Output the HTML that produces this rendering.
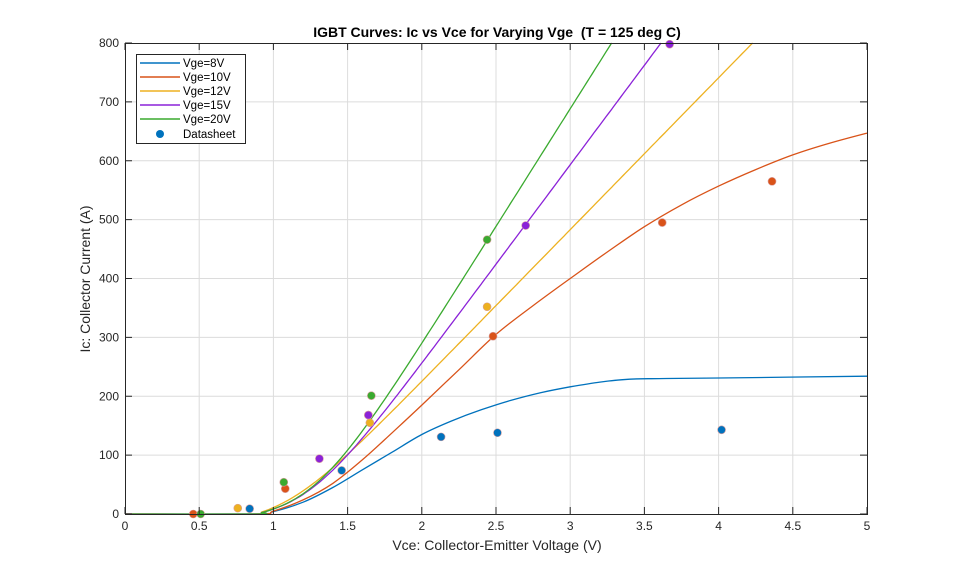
<!DOCTYPE html>
<html><head><meta charset="utf-8"><style>
body{margin:0;background:#fff;width:959px;height:577px;overflow:hidden}
text{font-family:"Liberation Sans",Arial,sans-serif;white-space:pre}
</style></head><body>
<svg id="s" width="959" height="577" xmlns="http://www.w3.org/2000/svg">
<rect width="959" height="577" fill="#fff"/>
<g id="grid" stroke="#dcdcdc" stroke-width="1"></g>
<g id="lines" fill="none" stroke-width="1.3"></g>
<g id="pts"></g>
<rect x="125.5" y="43.5" width="742" height="471" fill="none" stroke="#262626" stroke-width="1"/>
<g id="ticks" stroke="#262626"></g>
<g id="lab" font-size="12" fill="#262626"></g>
<text x="497" y="37" font-size="14" font-weight="bold" text-anchor="middle" fill="#000" xml:space="preserve">IGBT Curves: Ic vs Vce for Varying Vge  (T = 125 deg C)</text>
<text x="497" y="550" font-size="14" text-anchor="middle" fill="#262626">Vce: Collector-Emitter Voltage (V)</text>
<text transform="translate(90,279) rotate(-90)" font-size="14" text-anchor="middle" fill="#262626">Ic: Collector Current (A)</text>
<g>
<rect x="136.5" y="54.5" width="109" height="89" fill="#fff" stroke="#262626"/>
<g font-size="11.5" fill="#000">
<line x1="140" y1="63" x2="180" y2="63" stroke="#0072BD" stroke-width="1.5"/><text x="183" y="67">Vge=8V</text>
<line x1="140" y1="77" x2="180" y2="77" stroke="#D95319" stroke-width="1.5"/><text x="183" y="81">Vge=10V</text>
<line x1="140" y1="91" x2="180" y2="91" stroke="#EDB120" stroke-width="1.5"/><text x="183" y="95">Vge=12V</text>
<line x1="140" y1="105" x2="180" y2="105" stroke="#8B22D8" stroke-width="1.5"/><text x="183" y="109">Vge=15V</text>
<line x1="140" y1="119" x2="180" y2="119" stroke="#3AAA2F" stroke-width="1.5"/><text x="183" y="123">Vge=20V</text>
<circle cx="160" cy="134" r="4" fill="#0072BD"/><text x="183" y="138">Datasheet</text>
</g></g>
</svg>
<script>
const NS="http://www.w3.org/2000/svg";
const X=v=>125+148.4*v, Y=i=>514-0.58875*i;
function el(p,t,a){const e=document.createElementNS(NS,t);for(const k in a)e.setAttribute(k,a[k]);document.getElementById(p).appendChild(e);return e;}
for(let k=1;k<10;k++){el('grid','line',{x1:X(k*0.5),x2:X(k*0.5),y1:43,y2:514});}
for(let k=1;k<8;k++){el('grid','line',{x1:125,x2:867,y1:Y(k*100),y2:Y(k*100)});}
for(let k=0;k<=10;k++){const x=X(k*0.5);el('ticks','line',{x1:x,x2:x,y1:514,y2:507});el('ticks','line',{x1:x,x2:x,y1:43,y2:50});
 const t=el('lab','text',{x:x,y:530,'text-anchor':'middle'});t.textContent=(k*0.5).toString();}
for(let k=0;k<=8;k++){const y=Y(k*100);el('ticks','line',{x1:125,x2:132,y1:y,y2:y});el('ticks','line',{x1:867,x2:860,y1:y,y2:y});
 const t=el('lab','text',{x:119,y:y+4,'text-anchor':'end'});t.textContent=k*100;}
function crPath(pts){const P=pts.map(p=>[X(p[0]),Y(p[1])]);let d='M'+P[0][0].toFixed(1)+','+P[0][1].toFixed(1);
 for(let i=0;i<P.length-1;i++){const p0=P[Math.max(0,i-1)],p1=P[i],p2=P[i+1],p3=P[Math.min(P.length-1,i+2)];
  const c1=[p1[0]+(p2[0]-p0[0])/6,p1[1]+(p2[1]-p0[1])/6],c2=[p2[0]-(p3[0]-p1[0])/6,p2[1]-(p3[1]-p1[1])/6];
  d+=' C'+c1.map(n=>n.toFixed(1))+' '+c2.map(n=>n.toFixed(1))+' '+p2.map(n=>n.toFixed(1));}return d;}
function pl(pts,c){el('lines','path',{d:crPath(pts),stroke:c});}
function soft(s,vc){const w=0.2,f=v=>s*w*Math.log(1+Math.exp((v-vc)/w));const f0=f(0.88);const p=[[0,0],[0.88,0]];
 for(let v=0.92;v<=5.001;v+=0.04){const i=f(v)-f0;if(i>800){let lo=v-0.04,hi=v;for(let n=0;n<30;n++){const m=(lo+hi)/2;if(f(m)-f0>800)hi=m;else lo=m;}p.push([lo,800]);break;}p.push([v,i]);}return p;}
pl([[0,0],[0.88,0],[1,4],[1.2,20],[1.4,45],[1.6,75],[1.8,105],[2,135],[2.2,158],[2.4,177],[2.6,193],[2.8,206],[3,216],[3.2,224],[3.4,229],[3.6,230],[4,231],[5,234]],'#0072BD');
pl([[0,0],[0.88,0],[1,5],[1.2,24],[1.4,52],[1.6,92],[1.8,138],[2,185],[2.25,245],[2.5,305],[2.75,354],[3,400],[3.25,445],[3.5,488],[3.75,525],[4,557],[4.25,585],[4.5,610],[4.75,630],[5,647]],'#D95319');
pl(soft(258,1.06),'#EDB120');
pl(soft(338,1.21),'#8B22D8');
pl(soft(400,1.25),'#3AAA2F');
const D=[['#D95319',[[0.46,0],[1.08,43],[1.64,168],[2.48,302],[3.62,495],[4.36,565]]],
['#0072BD',[[0.84,9],[1.46,74],[2.13,131],[2.51,138],[4.02,143]]],
['#EDB120',[[0.76,10],[1.65,155],[2.44,352]]],
['#8B22D8',[[1.31,94],[1.64,168],[2.7,490],[3.67,798]]],
['#3AAA2F',[[0.51,0],[1.07,54],[1.66,201],[2.44,466]]]];
D.forEach(([c,a])=>a.forEach(p=>el('pts','circle',{cx:X(p[0]),cy:Y(p[1]),r:4,fill:c,stroke:'#d9a0a0','stroke-width':0.6})));
</script>
</body></html>
